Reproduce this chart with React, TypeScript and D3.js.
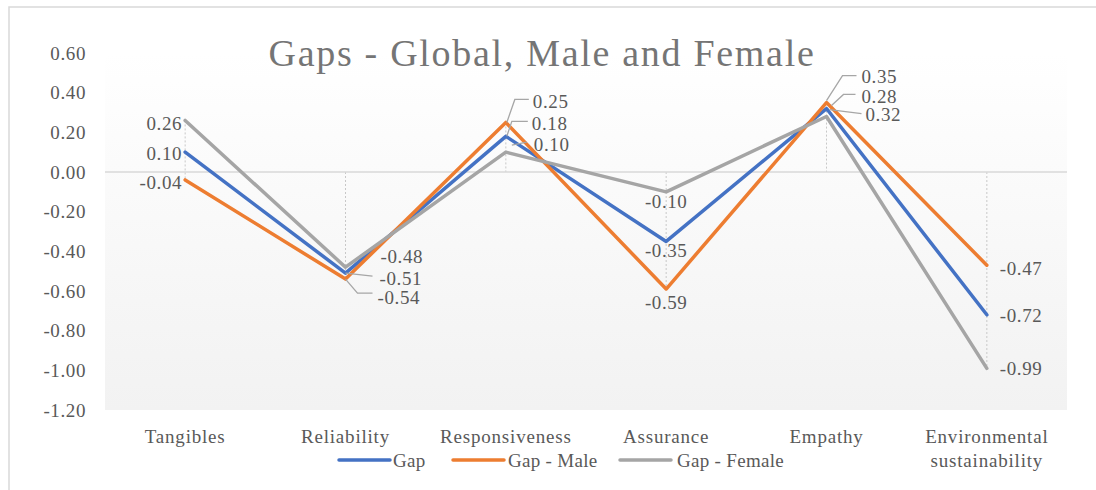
import React from 'react';
import * as d3 from 'd3';

const categories = ['Tangibles', 'Reliability', 'Responsiveness', 'Assurance', 'Empathy', 'Environmental sustainability'];
const gap = [0.10, -0.51, 0.18, -0.35, 0.32, -0.72];
const gapMale = [-0.04, -0.54, 0.25, -0.59, 0.35, -0.47];
const gapFemale = [0.26, -0.48, 0.10, -0.10, 0.28, -0.99];
const yTicks = [0.6, 0.4, 0.2, 0, -0.2, -0.4, -0.6, -0.8, -1.0, -1.2];

const series = [
  { name: 'Gap', values: gap, color: '#4472C4' },
  { name: 'Gap - Male', values: gapMale, color: '#ED7D31' },
  { name: 'Gap - Female', values: gapFemale, color: '#A5A5A5' },
];

// label placement per series per category: offsets from the point, anchor, leader line points
type Place = { dx: number; dy: number; anchor: string; leader?: [number, number][] };
const labelPlaces: Place[][] = [
  [
    { dx: -3, dy: 1, anchor: 'end' },
    { dx: 34, dy: 5, anchor: 'start', leader: [[0, 0], [27, 3]] },
    { dx: 26, dy: -13, anchor: 'start', leader: [[1, 0], [6, -15], [22, -15]] },
    { dx: 0, dy: 9, anchor: 'middle' },
    { dx: 39, dy: 6, anchor: 'start', leader: [[3, 1], [35, 5]] },
    { dx: 13, dy: 1, anchor: 'start' },
  ],
  [
    { dx: -3, dy: 2, anchor: 'end' },
    { dx: 32, dy: 18, anchor: 'start', leader: [[0, 0], [12, 14], [27, 14]] },
    { dx: 27, dy: -21, anchor: 'start', leader: [[1, 0], [9, -23], [23, -23]] },
    { dx: 0, dy: 13, anchor: 'middle' },
    { dx: 35, dy: -26, anchor: 'start', leader: [[0, -2], [16, -27], [30, -27]] },
    { dx: 13, dy: 3, anchor: 'start' },
  ],
  [
    { dx: -3, dy: 3, anchor: 'end' },
    { dx: 35, dy: -11, anchor: 'start' },
    { dx: 28, dy: -8, anchor: 'start', leader: [[6, -7], [21, -10]] },
    { dx: 0, dy: 10, anchor: 'middle' },
    { dx: 35, dy: -20, anchor: 'start', leader: [[5, -11], [17, -22], [29, -22]] },
    { dx: 13, dy: 0, anchor: 'start' },
  ],
];

const W = 1096;
const H = 490;
const plot = { left: 105, right: 1067, top: 53, bottom: 410 };
const font = "'Palatino Linotype', 'Book Antiqua', Palatino, 'Liberation Serif', serif";
const textColor = '#595959';
const fs = 19;
const ls = 0.6;

export default function App() {
  const x = d3.scaleBand<string>().domain(categories).range([plot.left, plot.right]);
  const cx = (c: string) => (x(c) as number) + x.bandwidth() / 2;
  const y = d3.scaleLinear().domain([-1.2, 0.6]).range([plot.bottom, plot.top]);
  const line = d3
    .line<number>()
    .x((_, i) => cx(categories[i]))
    .y((d) => y(d));

  const legendItems = [
    { x: 339, textX: 393 },
    { x: 453, textX: 508 },
    { x: 620, textX: 677 },
  ];

  return (
    <svg width={W} height={H} style={{ position: 'absolute', left: 0, top: 0, fontFamily: font }}>
      <defs>
        <linearGradient id="plotBg" x1="0" y1="0" x2="0" y2="1">
          <stop offset="0" stopColor="#ffffff" />
          <stop offset="1" stopColor="#f2f2f2" />
        </linearGradient>
      </defs>
      <rect x={0} y={0} width={W} height={H} fill="#ffffff" />
      <rect x={9} y={7} width={W + 20} height={H + 20} fill="#ffffff" stroke="#d9d9d9" strokeWidth={1.5} />
      <rect
        x={plot.left}
        y={plot.top}
        width={plot.right - plot.left}
        height={plot.bottom - plot.top}
        fill="url(#plotBg)"
      />

      <text x={542} y={66} textAnchor="middle" fontSize={38} letterSpacing={1.7} fill="#757575">
        Gaps - Global, Male and Female
      </text>

      {yTicks.map((t) => (
        <text key={t} x={86} y={y(t)} dy="0.35em" textAnchor="end" fontSize={fs} letterSpacing={ls} fill={textColor}>
          {t.toFixed(2)}
        </text>
      ))}

      {/* drop lines */}
      {categories.map((c, i) => {
        const vals = series.map((s) => s.values[i]);
        const hi = Math.max(0, ...vals);
        const lo = Math.min(0, ...vals);
        return (
          <line
            key={c}
            x1={cx(c)}
            x2={cx(c)}
            y1={y(hi)}
            y2={y(lo)}
            stroke="#c8c8c8"
            strokeWidth={1}
            strokeDasharray="2 2"
          />
        );
      })}

      <line x1={plot.left} x2={plot.right} y1={y(0)} y2={y(0)} stroke="#d9d9d9" strokeWidth={1.5} />

      {series.map((s) => (
        <path
          key={s.name}
          d={line(s.values) || ''}
          fill="none"
          stroke={s.color}
          strokeWidth={3.5}
          strokeLinejoin="round"
          strokeLinecap="round"
        />
      ))}

      {/* leader lines */}
      {series.map((s, si) =>
        s.values.map((v, i) => {
          const p = labelPlaces[si][i];
          if (!p.leader) return null;
          const px = cx(categories[i]);
          const py = y(v);
          const pts = p.leader.map(([a, b]) => `${px + a},${py + b}`).join(' ');
          return <polyline key={`${si}-${i}`} points={pts} fill="none" stroke="#a6a6a6" strokeWidth={1.3} />;
        })
      )}

      {/* data labels */}
      {series.map((s, si) =>
        s.values.map((v, i) => {
          const p = labelPlaces[si][i];
          return (
            <text
              key={`${si}-${i}`}
              x={cx(categories[i]) + p.dx}
              y={y(v) + p.dy}
              dy="0.35em"
              textAnchor={p.anchor as any}
              fontSize={fs}
              letterSpacing={ls}
              fill={textColor}
            >
              {v.toFixed(2)}
            </text>
          );
        })
      )}

      {/* category labels */}
      {categories.map((c) => {
        const words = c === 'Environmental sustainability' ? ['Environmental', 'sustainability'] : [c];
        return (
          <text key={c} x={cx(c)} y={436} textAnchor="middle" fontSize={fs} letterSpacing={0.8} fill={textColor}>
            {words.map((w, k) => (
              <tspan key={w} x={cx(c)} dy={k === 0 ? '0.35em' : 24}>
                {w}
              </tspan>
            ))}
          </text>
        );
      })}

      {/* legend */}
      {series.map((s, i) => (
        <g key={s.name}>
          <line
            x1={legendItems[i].x}
            x2={legendItems[i].x + 51}
            y1={460}
            y2={460}
            stroke={s.color}
            strokeWidth={3.5}
            strokeLinecap="round"
          />
          <text x={legendItems[i].textX} y={460} dy="0.35em" fontSize={fs} letterSpacing={0.3} fill={textColor}>
            {s.name}
          </text>
        </g>
      ))}
    </svg>
  );
}
